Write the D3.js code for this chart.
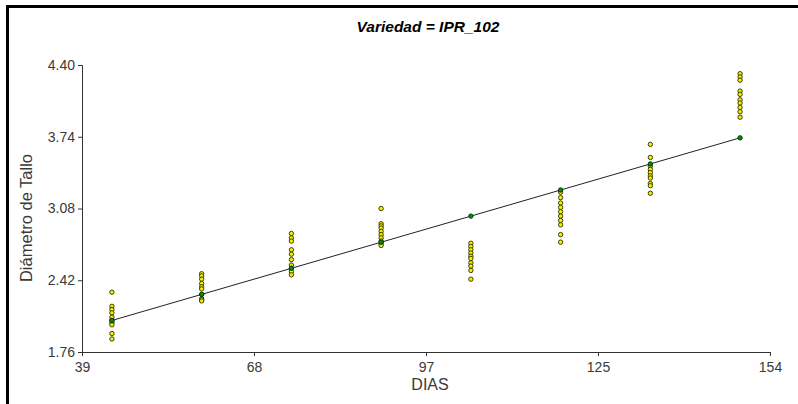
<!DOCTYPE html>
<html>
<head>
<meta charset="utf-8">
<script src="https://cdn.jsdelivr.net/npm/d3@7"></script>
<style>
  body { margin: 0; background: #fff; }
  svg { display: block; }
  .tick text { font-family: "Liberation Sans", Arial, sans-serif; font-size: 14px; fill: #3a3a3a; }
</style>
</head>
<body>
<script>
// days of measurement
const dias = [44, 59, 74, 89, 104, 119, 134, 149]
// observed stem diameter, one list per day
const diametro = [
  [2.31, 2.18, 2.15, 2.12, 2.08, 2.05, 2.03, 2.01, 1.93, 1.88],
  [2.48, 2.46, 2.43, 2.39, 2.36, 2.34, 2.29, 2.25, 2.24, 2.23],
  [2.85, 2.81, 2.78, 2.70, 2.66, 2.61, 2.56, 2.53, 2.50, 2.47],
  [3.08, 2.94, 2.92, 2.90, 2.87, 2.84, 2.81, 2.78, 2.76, 2.74],
  [2.76, 2.73, 2.70, 2.67, 2.64, 2.62, 2.58, 2.55, 2.51, 2.43],
  [3.23, 3.18, 3.13, 3.09, 3.05, 3.01, 2.97, 2.93, 2.84, 2.77],
  [3.67, 3.55, 3.47, 3.44, 3.41, 3.38, 3.36, 3.31, 3.29, 3.22],
  [4.32, 4.29, 4.26, 4.16, 4.13, 4.08, 4.05, 4.01, 3.97, 3.92]
]
// fitted values (green dots on the line)
const ajustados = [2.05, 2.29, 2.53, 2.77, 3.01, 3.25, 3.49, 3.73]
const xTicks = [39, 68, 97, 125, 154]
const yTicks = [1.76, 2.42, 3.08, 3.74, 4.40]

const W = 798, H = 404
const svg = d3.select('body').append('svg').attr('width', W).attr('height', H)

// frame (cropped at right/bottom)
svg.append('path')
  .attr('d', 'M7.5,404 L7.5,6.5 L798,6.5')
  .attr('fill', 'none').attr('stroke', '#000').attr('stroke-width', 3)

const x = d3.scaleLinear().domain([39, 154]).range([82, 770])
const y = d3.scaleLinear().domain([1.76, 4.40]).range([352, 65])

const xAxis = svg.append('g').attr('transform', 'translate(0,352)')
  .call(d3.axisBottom(x).tickValues([39, 67.75, 96.5, 125.25, 154]).tickSizeOuter(0).tickSize(4)
    .tickFormat((d, i) => xTicks[i]))
xAxis.selectAll('text').attr('dy', '0.95em')
const yAxis = svg.append('g').attr('transform', 'translate(82,0)')
  .call(d3.axisLeft(y).tickValues(yTicks).tickSizeOuter(0).tickSize(4).tickFormat(d3.format('.2f')))
svg.selectAll('.domain, .tick line').attr('stroke', '#333')

// regression line
svg.append('line')
  .attr('x1', x(dias[0])).attr('y1', y(ajustados[0]))
  .attr('x2', x(dias[dias.length - 1])).attr('y2', y(ajustados[ajustados.length - 1]))
  .attr('stroke', '#222').attr('stroke-width', 1)

const pts = dias.flatMap((d, i) => diametro[i].map(v => ({ d, v })))
svg.append('g').selectAll('circle').data(pts).enter().append('circle')
  .attr('cx', p => x(p.d)).attr('cy', p => y(p.v)).attr('r', 2.2)
  .attr('fill', '#f0f000').attr('stroke', '#2e2e00').attr('stroke-width', 0.9)

svg.append('g').selectAll('circle').data(dias).enter().append('circle')
  .attr('cx', d => x(d)).attr('cy', (d, i) => y(ajustados[i])).attr('r', 2.2)
  .attr('fill', '#0a8a0a').attr('stroke', '#003300').attr('stroke-width', 0.9)

svg.append('text').attr('x', 428).attr('y', 32).attr('text-anchor', 'middle')
  .style('font-family', '"Liberation Sans Narrow", "Arial Narrow", "Liberation Sans", sans-serif')
  .style('font-size', '15.5px').style('font-weight', 'bold').style('font-style', 'italic')
  .text('Variedad = IPR_102')

svg.append('text').attr('transform', 'translate(32,218) rotate(-90)').attr('text-anchor', 'middle')
  .style('font-family', '"Liberation Sans", Arial, sans-serif').style('font-size', '16.5px').attr('fill', '#3a3a3a')
  .text('Diámetro de Tallo')

svg.append('text').attr('x', 430).attr('y', 390).attr('text-anchor', 'middle')
  .style('font-family', '"Liberation Sans", Arial, sans-serif').style('font-size', '16px').attr('fill', '#3a3a3a')
  .text('DIAS')
</script>
</body>
</html>
